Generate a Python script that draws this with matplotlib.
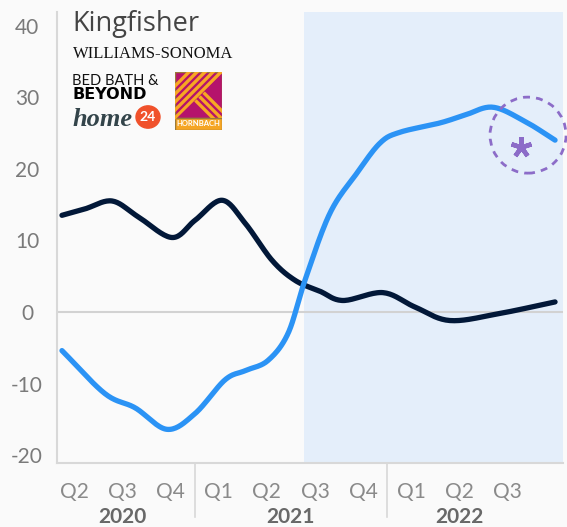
import numpy as np
import matplotlib.pyplot as plt
from matplotlib.patches import Ellipse, Rectangle, Circle, Polygon

W, H = 567, 527

quarters = ['Q2', 'Q3', 'Q4', 'Q1', 'Q2', 'Q3', 'Q4', 'Q1', 'Q2', 'Q3']
years = ['2020', '2021', '2022']
year_centres = [1, 4.5, 8]
year_breaks = [2.5, 6.5]
yticks = [-20, -10, 0, 10, 20, 30, 40]

# readings along the curves, x in quarter positions (0 = Q2 2020)
dark_x = [-0.25, 0.23, 0.79, 1.33, 2.03, 2.51, 3.07, 3.55, 4.11, 4.59,
          5.10, 5.58, 6.41, 7.07, 7.80, 8.84, 9.98]
dark_y = [13.5, 14.4, 15.5, 13.3, 10.4, 12.8, 15.6, 12.4, 7.2, 4.4,
          2.9, 1.6, 2.7, 0.7, -1.2, -0.2, 1.4]
blue_x = [-0.25, 0.64, 1.27, 1.93, 2.51, 3.13, 3.55, 4.02, 4.44, 4.79,
          5.31, 5.87, 6.35, 6.76, 7.59, 8.11, 8.69, 9.36, 9.98]
blue_y = [-5.4, -11.4, -13.4, -16.4, -14.2, -9.5, -8.2, -6.8, -3.0, 4.4,
          13.8, 19.4, 23.6, 25.1, 26.4, 27.5, 28.6, 26.6, 24.0]
shade_start = 4.77


def smooth(x, y, n=20):
    # catmull-rom through the read points, only for drawing
    pts = np.column_stack([x, y])
    P = np.vstack([2 * pts[0] - pts[1], pts, 2 * pts[-1] - pts[-2]])
    t = np.linspace(0, 1, n, endpoint=False)[:, None]
    out = []
    for i in range(1, len(P) - 2):
        p0, p1, p2, p3 = P[i - 1], P[i], P[i + 1], P[i + 2]
        out.append(0.5 * (2 * p1 + (p2 - p0) * t
                          + (2 * p0 - 5 * p1 + 4 * p2 - p3) * t ** 2
                          + (3 * p1 - p0 - 3 * p2 + p3) * t ** 3))
    out.append(pts[-1:])
    s = np.vstack(out)
    return s[:, 0], s[:, 1]


def fx(x):
    return x / W


def fy(y):
    return 1 - y / H


plt.rcParams['font.family'] = ['Lato', 'DejaVu Sans']
fig = plt.figure(figsize=(W / 100, H / 100), dpi=100, facecolor='#fafafa')
ax = fig.add_axes([57 / W, (H - 463) / H, 506 / W, 451 / H], facecolor='#fafafa')

xmin, xmax = -0.353, 10.145
ax.set_xlim(xmin, xmax)
ax.set_ylim(-21.1, 41.9)
ax.axvspan(shade_start, xmax, color='#e4eefa', lw=0, zorder=0)
ax.axhline(0, color='#d2d2d2', lw=1.5, zorder=1)

sx, sy = smooth(dark_x, dark_y)
ax.plot(sx, sy, color='#021838', lw=3.8, solid_capstyle='round', zorder=3)
sx, sy = smooth(blue_x, blue_y)
ax.plot(sx, sy, color='#2b93f5', lw=3.8, solid_capstyle='round', zorder=4)

for s in ['top', 'right']:
    ax.spines[s].set_visible(False)
for s in ['left', 'bottom']:
    ax.spines[s].set_color('#d8d8d8')
    ax.spines[s].set_linewidth(1.5)

ax.set_yticks(yticks)
ax.set_yticklabels([str(v) for v in yticks])
ax.tick_params(axis='y', length=0, pad=21.6, labelsize=15, labelcolor='#7a7a7a')
for lab in ax.get_yticklabels():
    lab.set_horizontalalignment('center')
ax.set_xticks(range(len(quarters)))
ax.set_xticklabels(quarters)
ax.tick_params(axis='x', length=0, pad=14, labelsize=15, labelcolor='#8a8a8a')

for xc, yr in zip(year_centres, years):
    ax.annotate(yr, xy=(xc, 0), xycoords=('data', 'axes fraction'),
                xytext=(0, -39), textcoords='offset points', ha='center', va='center',
                fontsize=15, fontweight='bold', color='#686868')
for xb in year_breaks:
    ax.plot([xb, xb], [0, -54 / 451], transform=ax.get_xaxis_transform(),
            color='#d8d8d8', lw=1.2, clip_on=False)

# callout circle with asterisk
ax.add_patch(Ellipse((9.42, 24.7), 1.577, 10.62, fill=False, edgecolor='#8c6cc8',
                     lw=2, linestyle=(0, (2.5, 2.2)), clip_on=False, zorder=5))
ax.plot([9.27], [23.0], marker=(5, 2, 0), markersize=15, mew=3.2,
        color='#8c6cc8', zorder=6)

# retailer logos, drawn as text
fig.text(fx(72), fy(31), 'Kingfisher', family='Open Sans', fontsize=19.5,
         color='#444444', va='baseline')
fig.text(fx(73), fy(58), 'WILLIAMS-SONOMA', family='Liberation Serif', fontsize=12,
         color='#111111', va='baseline')
fig.text(fx(72), fy(85), 'BED BATH &', family='Lato', fontsize=10.5,
         color='#111111', va='baseline')
fig.text(fx(72), fy(99), 'BEYOND', family='DejaVu Sans', fontweight='bold', fontsize=11.5,
         color='#000000', va='baseline')
fig.text(fx(72), fy(126), 'home', family='Liberation Serif', fontweight='bold',
         style='italic', fontsize=19, color='#33444a', va='baseline')
fig.patches.append(Circle((fx(148), fy(117)), 12 / W, transform=fig.transFigure,
                          color='#f0512b'))
fig.text(fx(148), fy(117), '24', fontsize=10, fontweight='bold', color='white',
         ha='center', va='center')

lg = fig.add_axes([fx(175), fy(130), 47 / W, 58 / H])
lg.set_xlim(0, 47)
lg.set_ylim(0, 58)
lg.axis('off')
lg.add_patch(Rectangle((0, 12), 47, 46, facecolor='#b5136c', lw=0))
upper = Polygon([(0, 10), (0, 58), (49, 58)], closed=True, transform=lg.transData)
lower = Polygon([(2, 12), (47, 12), (47, 55)], closed=True, transform=lg.transData)
for c in [12, 20, 28, 36, 44]:
    ln, = lg.plot([-5, 60], [-5 + c, 60 + c], color='#f7a823', lw=2.4)
    ln.set_clip_path(upper)
for c in [50, 58, 66]:
    ln, = lg.plot([0, 60], [c, c - 60], color='#f7a823', lw=2.4)
    ln.set_clip_path(lower)
lg.add_patch(Rectangle((0, 12), 47, 46, fill=False, edgecolor='#9a7a3a', lw=1))
lg.add_patch(Rectangle((0, 0), 47, 12, facecolor='#f5a524', edgecolor='#9a7a3a', lw=1))
lg.text(23.5, 6, 'HORNBACH', ha='center', va='center', fontsize=5.5,
        fontweight='bold', color='white')

fig.savefig('out.png', dpi=100, facecolor=fig.get_facecolor())
